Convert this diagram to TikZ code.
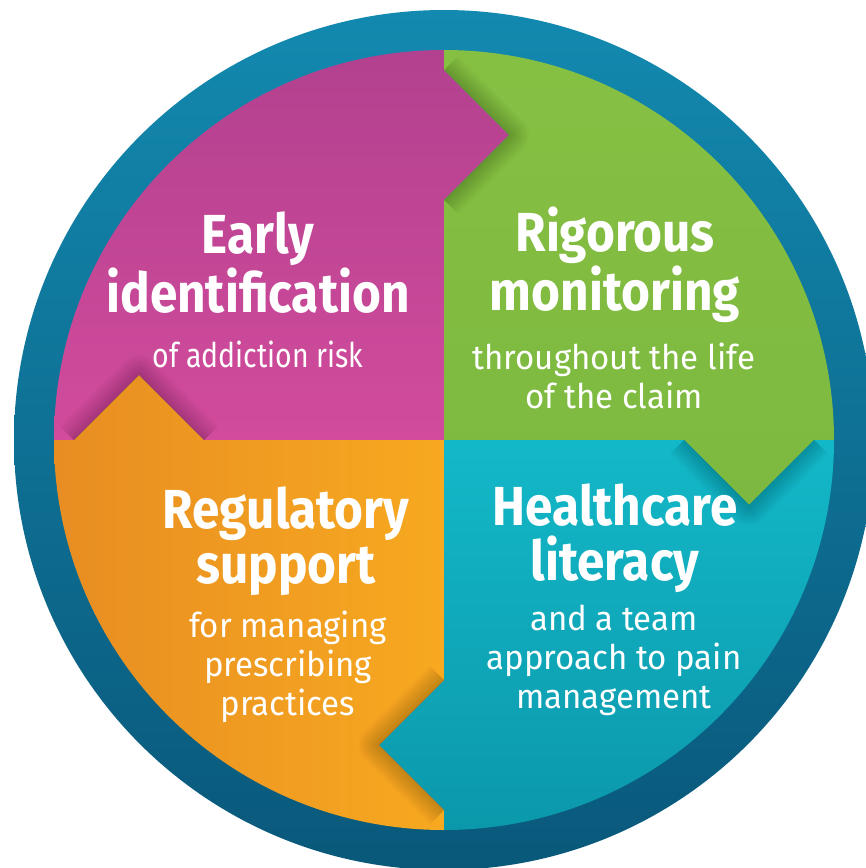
\documentclass[tikz,border=0pt]{standalone}
\usepackage{fontspec}
\setmainfont{Fira Sans}
\newfontfamily\headfont{Fira Sans}[FakeStretch=0.90]
\newfontfamily\subfont{Fira Sans}[FakeStretch=0.97]
\newfontfamily\tightfont{Fira Sans}[FakeStretch=0.835]

\definecolor{ringtop}{HTML}{1389AF}
\definecolor{ringbot}{HTML}{09587A}
\definecolor{magtop}{HTML}{B2418F}
\definecolor{magbot}{HTML}{D24B9C}
\definecolor{grntop}{HTML}{86C043}
\definecolor{grnbot}{HTML}{7DB940}
\definecolor{tealtop}{HTML}{13B8C8}
\definecolor{tealbot}{HTML}{0B98AB}
\definecolor{orgleft}{HTML}{E88D22}
\definecolor{orgright}{HTML}{F7A920}

% the four quadrants, each with its arrow head
\newcommand\magpath{(444,440) -- (204,440) -- (139,375) -- (74,440) -- (54,440)
  arc[start angle=180, end angle=90, radius=195pt] -- (444,70) -- (509,135) -- (444,200) -- cycle}
\newcommand\grnpath{(444,440) -- (444,200) -- (509,135) -- (444,70) -- (444,50)
  arc[start angle=90, end angle=0, radius=195pt] -- (814,440) -- (749,505) -- (684,440) -- cycle}
\newcommand\tealpath{(444,440) -- (684,440) -- (749,505) -- (814,440) -- (834,440)
  arc[start angle=0, end angle=-90, radius=195pt] -- (444,810) -- (379,745) -- (444,680) -- cycle}
\newcommand\orgpath{(444,440) -- (444,680) -- (379,745) -- (444,810) -- (444,830)
  arc[start angle=-90, end angle=-180, radius=195pt] -- (74,440) -- (139,375) -- (204,440) -- cycle}

\tikzset{
    head/.style={font=\headfont\bfseries\fontsize{27.5pt}{27.5pt}\selectfont,
      text=white, align=center, anchor=base, inner sep=0pt},
    sub/.style={font=\subfont\fontsize{17pt}{19.5pt}\selectfont,
      text=white, align=center, anchor=base, inner sep=0pt},
    fold/.style={black, opacity=0.018, line join=round}
}

\begin{document}
\begin{tikzpicture}[x=0.5pt, y=-0.5pt]
  \useasboundingbox (0,0) rectangle (866,868);
  \clip (0,0) rectangle (866,868);

  % Draw the ring
  \shade[top color=ringtop, bottom color=ringbot] (444,440) circle[radius=215pt];

  % Draw the quadrants
  \shade[top color=magtop, bottom color=magbot] \magpath;
  \shade[top color=grntop, bottom color=grnbot] \grnpath;
  \shade[top color=tealtop, bottom color=tealbot] \tealpath;
  \shade[left color=orgleft, right color=orgright] \orgpath;

  % Draw the shadows of the arrow heads
  \begin{scope}
    \clip \grnpath;
    \foreach \w in {2,4,...,20} \draw[fold, line width=\w pt] (444,70) -- (509,135) -- (444,200);
  \end{scope}
  \begin{scope}
    \clip \tealpath;
    \foreach \w in {2,4,...,20} \draw[fold, line width=\w pt] (684,440) -- (749,505) -- (814,440);
  \end{scope}
  \begin{scope}
    \clip \orgpath;
    \foreach \w in {2,4,...,20} \draw[fold, line width=\w pt] (444,680) -- (379,745) -- (444,810);
  \end{scope}
  \begin{scope}
    \clip \magpath;
    \foreach \w in {2,4,...,20} \draw[fold, line width=\w pt] (74,440) -- (139,375) -- (204,440);
  \end{scope}

  % Draw the texts (base = last line)
  \node[head] (early) at (258,312) {Early\\identification};
  \node[sub, font=\tightfont\fontsize{17pt}{19.5pt}\selectfont] (earlysub) at (258,367) {of addiction risk};
  \node[head] (rigor) at (615,310) {Rigorous\\monitoring};
  \node[sub] (rigorsub) at (614,408) {throughout the life\\of the claim};
  \node[head] (regul) at (286,583) {Regulatory\\support};
  \node[sub] (regulsub) at (288,715) {for managing\\prescribing\\practices};
  \node[head] (health) at (615,580) {Healthcare\\literacy};
  \node[sub] (healthsub) at (614,708) {and a team\\approach to pain\\management};
\end{tikzpicture}
\end{document}
